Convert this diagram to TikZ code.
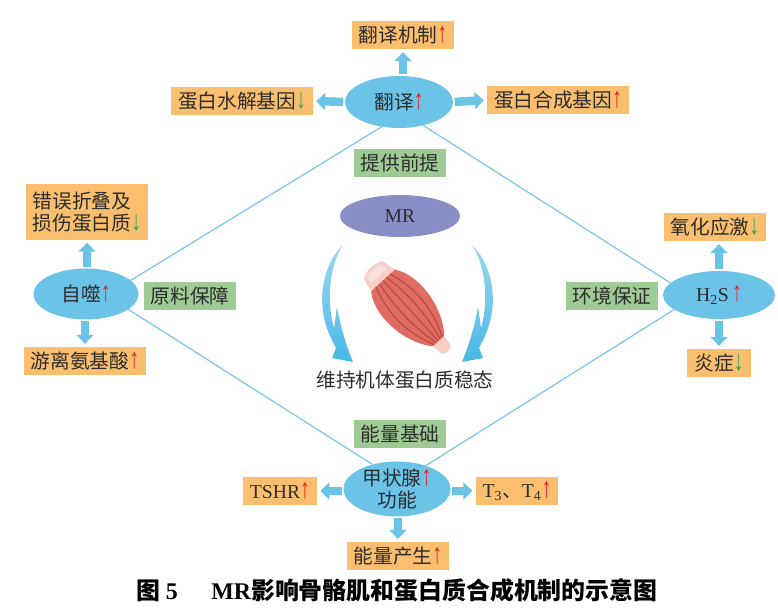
\documentclass[tikz,border=0pt]{standalone}
\usepackage{fontspec}
\usepackage{graphicx}
\usetikzlibrary{arrows.meta, calc, positioning, shapes.geometric}
\setmainfont{Noto Sans CJK SC}
\newfontfamily\latfont{Liberation Serif}
\definecolor{boxorange}{RGB}{249,190,110}
\definecolor{boxgreen}{RGB}{158,203,148}
\definecolor{ellblue}{RGB}{108,195,232}
\definecolor{lineblue}{RGB}{125,200,235}
\definecolor{mrpurple}{RGB}{138,142,198}
\definecolor{textgray}{RGB}{45,45,45}
\definecolor{upred}{RGB}{235,30,35}
\definecolor{downgreen}{RGB}{50,165,90}
\definecolor{musclered}{RGB}{222,108,98}
\definecolor{stripered}{RGB}{188,72,66}
\definecolor{tendonpink}{RGB}{246,208,198}
\definecolor{arrowtop}{RGB}{160,215,240}
\definecolor{arrowblue}{RGB}{70,185,230}
\newcommand{\upar}{\textcolor{upred}{\scalebox{1}[1.45]{\latfont ↑}}}
\newcommand{\dnar}{\textcolor{downgreen}{\scalebox{1}[1.45]{\latfont ↓}}}
\newcommand{\boxfont}{\fontsize{14}{16}\selectfont}

\begin{document}
\begin{tikzpicture}[x=0.025cm, y=-0.025cm,
    orangebox/.style={fill=boxorange, text=textgray, inner xsep=5pt, inner ysep=0pt, minimum height=0.7cm, font=\boxfont},
    greenbox/.style={fill=boxgreen, text=textgray, inner xsep=5pt, inner ysep=0pt, minimum height=0.7cm, font=\boxfont},
    blueell/.style={ellipse, fill=ellblue, text=textgray, inner sep=-3pt, align=center, font=\boxfont},
    blockarrow/.style={line width=6pt, ellblue, -{Triangle[width=12pt, length=6.5pt]}, shorten <=1pt, shorten >=2pt},
    thinline/.style={lineblue, line width=0.9pt}]
    \useasboundingbox (0,0) rectangle (778,616);

    % Translation
    \node[blueell, minimum width=2.7cm, minimum height=1.3cm] (fy) at (399,102) {翻译\upar};
    \node[orangebox] (fyjz) at (403,35) {翻译机制\upar};
    \node[orangebox] (sjjy) at (242,101) {蛋白水解基因\dnar};
    \node[orangebox] (hcjy) at (558,100) {蛋白合成基因\upar};
    \node[greenbox] (tgqt) at (400,163) {提供前提};
    \draw[blockarrow] (fy.north -| fyjz.south) -- (fyjz.south);
    \draw[blockarrow] (fy.west) -- (sjjy.east);
    \draw[blockarrow] (fy.east) -- (hcjy.west);

    % Autophagy
    \node[blueell, minimum width=2.625cm, minimum height=1.275cm] (zs) at (86,294) {自噬\upar};
    \node[orangebox, align=left, minimum height=1.375cm] (cwzd) at (87,212) {错误折叠及\\损伤蛋白质\dnar};
    \node[orangebox] (ylaj) at (85,361) {游离氨基酸\upar};
    \node[greenbox] (ylbz) at (190,296) {原料保障};
    \draw[blockarrow] (zs.north -| cwzd.south) -- (cwzd.south);
    \draw[blockarrow] (zs.south -| ylaj.north) -- (ylaj.north);

    % H2S
    \node[blueell, minimum width=2.8cm, minimum height=1.2cm] (h2s) at (719,295) {{\latfont H\textsubscript{2}S}\,\upar};
    \node[orangebox] (yhyj) at (715,227) {氧化应激\dnar};
    \node[orangebox] (yz) at (719,363) {炎症\dnar};
    \node[greenbox] (hjbz) at (612,296) {环境保证};
    \draw[blockarrow] (h2s.north) -- (h2s.north |- yhyj.south);
    \draw[blockarrow] (h2s.south) -- (h2s.south |- yz.north);

    % Thyroid
    \node[blueell, minimum width=2.675cm, minimum height=1.375cm] (jzx) at (397,489) {甲状腺\upar\\功能};
    \node[greenbox] (nljc) at (400,434) {能量基础};
    \node[orangebox] (tshr) at (280,491) {{\latfont TSHR}\upar};
    \node[orangebox] (t34) at (517,491) {{\latfont T\textsubscript{3}}、{\latfont T\textsubscript{4}}\upar};
    \node[orangebox] (nlcs) at (398,556) {能量产生\upar};
    \draw[blockarrow] (jzx.west |- tshr.east) -- (tshr.east);
    \draw[blockarrow] (jzx.east |- t34.west) -- (t34.west);
    \draw[blockarrow] (jzx.south -| nlcs.north) -- (nlcs.north);

    % Diamond links
    \draw[thinline] (fy.235) -- (zs.17);
    \draw[thinline] (fy.316) -- (h2s.166);
    \draw[thinline] (zs.-20) -- (jzx.135);
    \draw[thinline] (h2s.198) -- (jzx.39);

    % Centre: MR and muscle
    \node[ellipse, fill=mrpurple, text=textgray, minimum width=3cm, minimum height=1.05cm, inner sep=0pt, font=\boxfont\latfont] (mr) at (400,216) {MR};
    \node[text=textgray, font=\boxfont] (wc) at (405,380) {维持机体蛋白质稳态};
    \foreach \s in {1,-1}{
      \begin{scope}[shift={(407.5,0)}, xscale=\s]
        \shade[top color=arrowtop, bottom color=arrowblue]
          (-64.5,245) .. controls (-85.5,265) and (-89.5,300) .. (-81.5,325)
          .. controls (-78.5,335) and (-74.5,342) .. (-71.5,348)
          -- (-75.5,358) -- (-54.5,362)
          .. controls (-61.5,345) and (-67.5,325) .. (-70.5,307)
          -- (-73.5,328)
          .. controls (-80.5,305) and (-79.5,268) .. (-64.5,245) -- cycle;
      \end{scope}
    }
    \begin{scope}[shift={(410,310)}, rotate=-47.5]
      \fill[tendonpink] (-40,-16) -- (-54,-13) .. controls (-59,-7) and (-59,7) .. (-54,13) -- (-40,16) -- cycle;
      \fill[white, opacity=0.35] (-46,-11) -- (-53,-9) .. controls (-55,-5) and (-55,5) .. (-53,9) -- (-46,11) -- cycle;
      \fill[tendonpink] (40,-8) -- (54,-6) .. controls (57,-3) and (57,3) .. (54,6) -- (40,8) -- cycle;
      \fill[musclered] (-40,-16) .. controls (-22,-30) and (18,-28) .. (42,-8) -- (42,8) .. controls (18,28) and (-22,30) .. (-40,16) -- cycle;
      \foreach \k in {-12,-6,0,6,12}
        \draw[stripered, line width=0.8pt] (-40,\k*0.8) .. controls (-12,\k*1.6) and (15,\k*1.5) .. (42,\k*0.45);
    \end{scope}

    % Caption
    \node[text=black, font=\fontsize{17}{20}\selectfont\bfseries] (cap) at (397,590) {图 {\latfont 5}\hspace{1.4em}{\latfont MR}影响骨骼肌和蛋白质合成机制的示意图};
\end{tikzpicture}
\end{document}
